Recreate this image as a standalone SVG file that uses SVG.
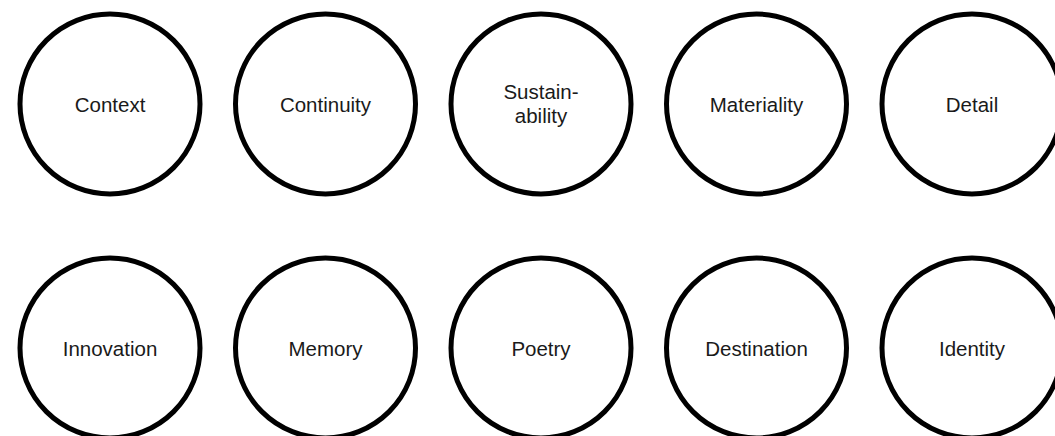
<svg xmlns="http://www.w3.org/2000/svg" width="1055" height="436" viewBox="0 0 1055 436">
<style>
.n{fill:#fff;stroke:#000;stroke-width:5}
.t{font-family:"Liberation Sans",Arial,sans-serif;font-size:20.5px;fill:#1a1a1a;text-anchor:middle}
</style>
<rect width="1055" height="436" fill="#fff"/>
<g id="connectors"/>
<g id="context"><circle class="n" cx="110" cy="104" r="90"/><text class="t" x="110" y="111.5">Context</text></g>
<g id="continuity"><circle class="n" cx="325.5" cy="104" r="90"/><text class="t" x="325.5" y="111.5">Continuity</text></g>
<g id="sustainability"><circle class="n" cx="541" cy="104" r="90"/><text class="t" x="541" y="99">Sustain-</text><text class="t" x="541" y="123">ability</text></g>
<g id="materiality"><circle class="n" cx="756.5" cy="104" r="90"/><text class="t" x="756.5" y="111.5">Materiality</text></g>
<g id="detail"><circle class="n" cx="972" cy="104" r="90"/><text class="t" x="972" y="111.5">Detail</text></g>
<g id="innovation"><circle class="n" cx="110" cy="348" r="90"/><text class="t" x="110" y="355.5">Innovation</text></g>
<g id="memory"><circle class="n" cx="325.5" cy="348" r="90"/><text class="t" x="325.5" y="355.5">Memory</text></g>
<g id="poetry"><circle class="n" cx="541" cy="348" r="90"/><text class="t" x="541" y="355.5">Poetry</text></g>
<g id="destination"><circle class="n" cx="756.5" cy="348" r="90"/><text class="t" x="756.5" y="355.5">Destination</text></g>
<g id="identity"><circle class="n" cx="972" cy="348" r="90"/><text class="t" x="972" y="355.5">Identity</text></g>
</svg>
